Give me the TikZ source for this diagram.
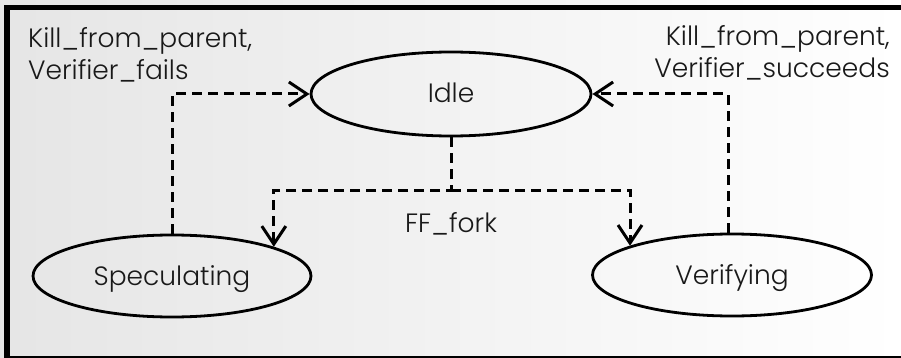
\documentclass[tikz,border=0pt]{standalone}
\usepackage{fontspec}
\setmainfont{Poppins}[UprightFont={* Light}]
\usetikzlibrary{shapes.geometric,arrows.meta,calc}
\begin{document}
\begin{tikzpicture}[x=1pt,y=-1pt,
  lbl/.style={font=\fontsize{26.5}{32}\selectfont,text=black!90},
  capline/.style={lbl,text height=18pt,text depth=0pt},
  state/.style={capline,ellipse,draw=black,line width=2.8pt,inner sep=0pt},
  flow/.style={line width=3pt,dash pattern=on 10pt off 6pt,
    -{Straight Barb[length=18pt,width=24pt]}}]
\useasboundingbox (0,0) rectangle (901,358);
% backdrop and frame
\shade[left color=black!10,right color=white] (0,0) rectangle (901,358);
\draw[line width=5.6pt,line join=miter] (7.2,358) -- (7.2,7.7) -- (901,7.7);
\draw[line width=1.5pt] (10,357) -- (901,357);

% states
\node[state,minimum width=280pt,minimum height=84pt] (idle) at (451,94) {Idle};
\node[state,minimum width=278pt,minimum height=82pt] (spec) at (172,276) {Speculating};
\node[state,minimum width=279pt,minimum height=82pt] (ver) at (732,275) {Verifying};

% transition labels
\node[lbl,align=left,anchor=north west,inner sep=0pt] (lk) at (28,27)
  {Kill\_from\_parent,\\Verifier\_fails};
\node[lbl,align=right,anchor=north east,inner sep=0pt] (rk) at (890,25)
  {Kill\_from\_parent,\\Verifier\_succeeds};
\node[capline] (ff) at (451,223) {FF\_fork};

% transitions
\draw[flow] (spec.north) |- (idle.west);
\draw[flow] (ver.95) |- (idle.east);
\coordinate (fork) at ($(idle.south)+(0,53)$);
\draw[flow] (idle.south) -- (fork) -| (spec.16);
\draw[flow] (fork) -| (ver.164);
\end{tikzpicture}
\end{document}
